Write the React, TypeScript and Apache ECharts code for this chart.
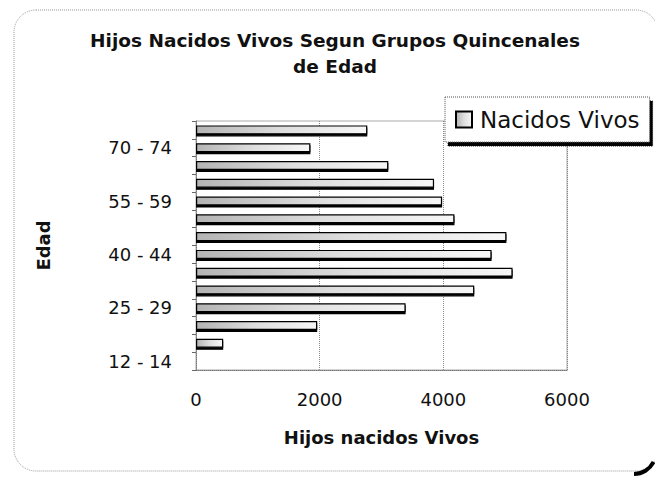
import React, { useEffect, useRef } from "react";
import * as echarts from "echarts";

const categories = [
  "12 - 14", "15 - 19", "20 - 24", "25 - 29", "30 - 34", "35 - 39", "40 - 44",
  "45 - 49", "50 - 54", "55 - 59", "60 - 64", "65 - 69", "70 - 74", "75 +",
];
const nacidosVivos = [0, 440, 1960, 3390, 4500, 5120, 4780, 5020, 4180, 3980, 3850, 3110, 1850, 2770];
const xTicks = { min: 0, max: 6000, interval: 2000 };
const titleText = "Hijos Nacidos Vivos Segun Grupos Quincenales\nde Edad";
const seriesName = "Nacidos Vivos";
const xName = "Hijos nacidos Vivos";
const yName = "Edad";

const FONT = "DejaVu Sans";

export default function App() {
  const ref = useRef<HTMLDivElement>(null);
  useEffect(() => {
    if (!ref.current) return;
    const chart = echarts.init(ref.current, undefined, { renderer: "svg" });
    const barFill = new echarts.graphic.LinearGradient(0, 0, 1, 0, [
      { offset: 0, color: "#b4b4b4" },
      { offset: 0.5, color: "#dedede" },
      { offset: 1, color: "#f7f7f7" },
    ]);
    chart.setOption({
      animation: false,
      backgroundColor: "#fff",
      title: {
        text: titleText,
        left: 335,
        top: 27,
        textAlign: "center",
        padding: 0,
        textStyle: { fontFamily: FONT, fontSize: 18.5, fontWeight: "bold", color: "#111", lineHeight: 26 },
      },
      legend: {
        left: 445,
        top: 97,
        padding: [11, 10, 11, 10],
        itemWidth: 16,
        itemHeight: 16,
        itemGap: 8,
        backgroundColor: "#fff",
        borderColor: "#555",
        borderWidth: 1,
        borderType: "dotted",
        shadowColor: "#000",
        shadowOffsetX: 3,
        shadowOffsetY: 4,
        shadowBlur: 0,
        textStyle: { fontFamily: FONT, fontSize: 23, color: "#111", padding: [0, 0, 0, 3] },
        data: [{ name: seriesName, icon: "rect" }],
        z: 10,
      },
      grid: {
        left: 196,
        right: 88,
        top: 121,
        bottom: 111,
        show: true,
        borderColor: "#aaa",
        borderWidth: 1,
      },
      xAxis: {
        type: "value",
        min: xTicks.min,
        max: xTicks.max,
        interval: xTicks.interval,
        name: xName,
        nameLocation: "middle",
        nameGap: 58,
        nameTextStyle: { fontFamily: FONT, fontSize: 18, fontWeight: "bold", color: "#111" },
        axisLine: { show: true, lineStyle: { color: "#777", type: "dotted" } },
        axisTick: { show: false },
        axisLabel: {
          margin: 20,
          fontFamily: FONT,
          fontSize: 18,
          color: "#111",
          formatter: (v: number) => String(v),
        },
        splitLine: { show: true, lineStyle: { color: "#888", type: "dotted" } },
      },
      yAxis: {
        type: "category",
        data: categories,
        name: yName,
        nameLocation: "middle",
        nameRotate: 90,
        nameGap: 144,
        nameTextStyle: { fontFamily: FONT, fontSize: 18, fontWeight: "bold", color: "#111" },
        axisLine: { show: true, lineStyle: { color: "#777", type: "dotted" } },
        axisTick: { show: true, interval: 0, length: 4, lineStyle: { color: "#666" } },
        axisLabel: { interval: 2, margin: 24, fontFamily: FONT, fontSize: 18, color: "#111" },
        splitLine: { show: false },
      },
      series: [
        {
          name: seriesName,
          type: "bar",
          data: nacidosVivos,
          barWidth: 9,
          itemStyle: {
            color: barFill,
            borderColor: "#000",
            borderWidth: 1.2,
            shadowColor: "#000",
            shadowOffsetY: 2,
            shadowOffsetX: 0,
            shadowBlur: 0,
          },
        },
      ],
      graphic: [
        {
          type: "rect",
          shape: { x: 14, y: 10, width: 644, height: 461, r: 22 },
          style: { fill: "none", stroke: "#999", lineWidth: 1, lineDash: [1, 1] },
          silent: true,
          z: -1,
        },
        {
          type: "arc",
          shape: { cx: 634, cy: 452, r: 22, startAngle: 0.15 * Math.PI, endAngle: 0.5 * Math.PI },
          style: { fill: "none", stroke: "#000", lineWidth: 4 },
          silent: true,
        },
      ],
    });
    return () => chart.dispose();
  }, []);
  return <div ref={ref} style={{ position: "absolute", left: 0, top: 0, width: 655, height: 481 }} />;
}
